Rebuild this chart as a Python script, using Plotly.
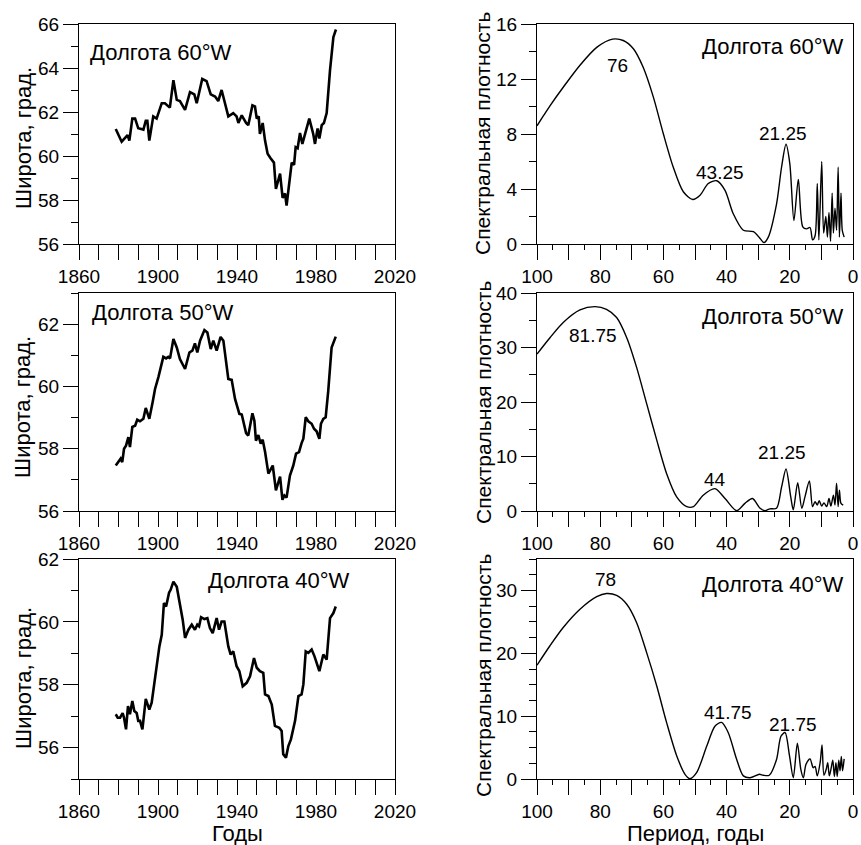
import plotly.graph_objects as go

# ---------------- data: latitude time series ----------------
years_60 = [1878.6, 1881.6, 1884.6, 1885.5, 1887.0, 1888.4, 1890.0, 1892.6, 1893.8, 1894.6, 1895.6, 1897.6,
            1899.3, 1901.9, 1903.5, 1906.0, 1907.8, 1909.5, 1911.1, 1913.7, 1916.2, 1918.4, 1919.6, 1922.4,
            1924.6, 1926.7, 1928.9, 1930.5, 1932.2, 1933.4, 1935.6, 1938.1, 1939.8, 1940.7, 1942.4, 1944.6,
            1945.7, 1947.8, 1949.1, 1950.0, 1951.0, 1951.6, 1953.0, 1954.2, 1955.5, 1957.0, 1958.7, 1959.7,
            1961.8, 1963.1, 1964.3, 1965.1, 1966.8, 1967.7, 1968.9, 1969.7, 1970.7, 1971.9, 1973.1, 1974.4,
            1976.6, 1978.6, 1979.5, 1980.8, 1981.7, 1982.9, 1984.0, 1985.4, 1987.1, 1988.8, 1990.1]
lat_60 = [61.23, 60.65, 60.95, 60.70, 61.70, 61.70, 61.26, 61.20, 61.60, 61.60, 60.70, 61.80,
          61.70, 62.40, 62.40, 62.20, 63.45, 62.55, 62.50, 62.10, 62.90, 62.80, 62.40, 63.50,
          63.40, 62.80, 62.70, 62.50, 63.00, 62.55, 61.80, 61.95, 61.80, 61.50, 61.85, 61.50,
          61.40, 62.30, 62.25, 61.70, 61.80, 61.00, 61.50, 60.70, 60.10, 59.90, 59.70, 58.50,
          59.20, 58.10, 58.30, 57.75, 59.20, 59.70, 59.60, 60.40, 60.35, 61.05, 60.55, 60.95,
          61.70, 61.00, 60.55, 61.25, 60.80, 61.40, 61.50, 61.95, 63.90, 65.40, 65.75]

years_50 = [1878.6, 1879.9, 1881.1, 1881.9, 1882.8, 1883.8, 1885.0, 1885.8, 1887.0, 1888.4, 1889.5, 1890.9,
            1892.6, 1893.8, 1895.6, 1897.3, 1898.5, 1900.2, 1901.5, 1902.7, 1904.1, 1905.2, 1906.1, 1907.8,
            1909.5, 1911.1, 1913.7, 1915.9, 1917.4, 1918.7, 1919.9, 1921.3, 1923.5, 1925.0, 1926.7, 1928.0,
            1929.7, 1931.7, 1933.1, 1935.6, 1937.3, 1939.0, 1941.2, 1942.4, 1944.6, 1945.7, 1947.8, 1948.8,
            1949.6, 1950.8, 1952.0, 1953.0, 1954.2, 1955.9, 1958.1, 1959.7, 1961.8, 1963.0, 1964.0, 1965.1,
            1966.8, 1968.5, 1969.9, 1971.4, 1972.7, 1973.6, 1974.8, 1976.1, 1977.8, 1979.0, 1980.3, 1981.7,
            1982.5, 1983.7, 1984.9, 1986.2, 1987.9, 1990.0]
lat_50 = [57.46, 57.57, 57.68, 57.57, 58.00, 58.10, 58.37, 58.05, 58.70, 58.74, 58.93, 58.88,
          58.96, 59.31, 58.96, 59.50, 59.92, 60.30, 60.60, 60.95, 60.90, 60.95, 60.90, 61.52,
          61.25, 60.88, 60.56, 61.09, 61.15, 61.38, 61.09, 61.47, 61.81, 61.73, 61.20, 61.47,
          61.15, 61.59, 61.47, 60.24, 60.21, 59.60, 59.12, 59.10, 58.50, 58.42, 59.14, 58.90,
          58.26, 58.44, 58.16, 58.29, 57.90, 57.20, 57.46, 56.66, 57.10, 56.36, 56.50, 56.43,
          57.14, 57.46, 57.84, 57.89, 58.18, 58.32, 59.01, 58.88, 58.80, 58.64, 58.56, 58.32,
          58.80, 58.96, 59.01, 59.86, 61.25, 61.60]

years_40 = [1878.6, 1879.6, 1880.8, 1882.1, 1882.8, 1883.8, 1884.8, 1885.8, 1887.0, 1888.0, 1889.2, 1890.0,
            1890.9, 1892.1, 1893.8, 1895.6, 1896.8, 1898.1, 1899.3, 1900.7, 1901.9, 1903.0, 1904.1, 1905.6,
            1906.4, 1907.8, 1909.5, 1910.6, 1912.5, 1913.7, 1915.4, 1917.1, 1918.7, 1919.9, 1920.8, 1921.8,
            1923.5, 1925.0, 1926.3, 1927.7, 1929.7, 1930.9, 1932.2, 1933.6, 1935.6, 1936.8, 1938.1, 1939.8,
            1941.2, 1942.9, 1944.9, 1946.6, 1948.6, 1950.0, 1951.6, 1953.3, 1954.2, 1955.9, 1957.6, 1959.2,
            1961.4, 1962.6, 1963.4, 1964.8, 1966.0, 1967.3, 1969.4, 1971.1, 1972.7, 1973.6, 1974.8, 1976.1,
            1977.8, 1979.2, 1981.7, 1983.7, 1985.4, 1987.1, 1988.8, 1990.0]
lat_40 = [57.06, 56.95, 56.95, 57.10, 56.95, 56.58, 57.32, 57.06, 57.48, 57.16, 57.10, 56.85,
          56.85, 56.58, 57.55, 57.21, 57.43, 58.06, 58.48, 59.22, 59.59, 60.60, 60.49, 60.93,
          61.02, 61.28, 61.12, 60.75, 60.07, 59.49, 59.75, 59.91, 59.75, 59.91, 59.86, 60.15,
          60.09, 60.12, 59.80, 59.64, 60.12, 59.75, 60.01, 60.01, 59.22, 58.96, 59.06, 58.59,
          58.43, 57.95, 58.06, 58.27, 58.85, 58.54, 58.43, 58.38, 57.69, 57.64, 57.37, 56.69,
          56.63, 56.53, 55.79, 55.68, 56.05, 56.26, 56.85, 57.64, 57.69, 58.01, 59.06, 59.01,
          59.12, 58.91, 58.43, 58.96, 58.80, 60.12, 60.28, 60.49]

# ---------------- data: spectral density vs period ----------------
per_60 = [100, 97.9, 95.9, 91.7, 86.4, 81.1, 76.1, 72.7, 69.5, 66.4, 63.2, 60.0, 56.9, 53.7, 50.7, 48.4, 45.8,
          43.1, 40.5, 37.9, 34.7, 31.5, 29.4, 28.2, 26.8, 24.2, 22.6, 21.2, 20.0, 18.7, 17.3, 15.9, 14.7,
          13.6, 12.8, 12.0, 11.3, 10.8, 9.9, 9.3, 8.6, 8.1, 7.6, 7.1, 6.6, 6.2, 5.7, 5.2, 4.7, 4.3, 3.8,
          3.4, 2.8]
spec_60 = [8.6, 9.35, 10.05, 11.4, 13.0, 14.3, 14.9, 14.8, 14.2, 12.85, 10.7, 8.0, 5.6, 3.8, 3.24, 3.55, 4.4,
           4.6, 3.9, 2.2, 1.0, 0.9, 0.4, 0.1, 0.5, 2.9, 5.6, 7.25, 5.85, 1.7, 4.7, 1.25, 1.1,
           1.2, 0.3, 0.6, 4.4, 0.3, 6.0, 0.8, 2.0, 0.5, 2.3, 0.2, 3.7, 0.8, 2.6, 1.0, 5.6, 0.5, 3.7,
           1.0, 0.5]

per_50 = [100, 95.9, 91.7, 86.4, 81.6, 78.0, 74.8, 71.6, 68.5, 65.3, 62.1, 59.0, 55.8, 52.6, 50.5, 47.4,
          43.7, 40.5, 36.8, 34.2, 31.8, 29.4, 27.8, 26.3, 24.2, 22.6, 21.2, 19.7, 18.9, 17.5, 16.2, 15.2,
          13.8, 12.8, 12.0, 11.3, 10.7, 9.9, 9.2, 8.3, 7.6, 7.0, 6.2, 5.7, 5.2, 4.7, 4.3, 3.8, 3.1]
spec_50 = [28.8, 31.8, 34.6, 36.9, 37.5, 37.0, 35.5, 31.8, 26.4, 19.7, 13.0, 6.9, 2.6, 0.8, 0.8, 2.9,
           4.1, 2.3, 0.05, 1.4, 2.3, 0.5, 0.05, 0.4, 0.5, 4.4, 7.7, 2.6, 0.2, 5.2, 0.5, 2.6,
           5.5, 0.8, 1.7, 1.1, 1.9, 0.9, 1.5, 0.8, 2.3, 0.9, 2.9, 1.1, 5.1, 0.8, 3.8, 1.4, 1.1]

per_40 = [100, 95.9, 91.7, 86.4, 81.1, 78.0, 74.8, 71.6, 68.5, 65.3, 62.1, 59.0, 55.8, 53.1, 51.6, 49.5,
          46.3, 43.7, 41.6, 39.5, 36.8, 34.7, 32.6, 29.6, 28.4, 26.5, 24.2, 22.8, 21.5, 20.1, 18.9, 17.6,
          16.5, 15.7, 14.9, 13.6, 12.6, 12.0, 11.3, 10.4, 9.8, 9.2, 8.5, 8.0, 7.5, 7.0, 6.4, 5.9, 5.4,
          5.0, 4.5, 4.1, 3.7, 3.3, 2.8]
spec_40 = [18.1, 21.2, 24.1, 27.0, 29.0, 29.5, 29.2, 27.8, 24.9, 20.1, 14.8, 9.0, 3.7, 0.7, 0.05, 1.0,
           5.2, 8.4, 9.0, 7.4, 3.1, 0.5, 0.2, 0.75, 0.6, 0.6, 3.1, 6.8, 7.4, 3.7, 0.2, 5.7,
           1.5, 0.2, 2.3, 3.2, 1.8, 2.0, 0.5, 2.6, 5.4, 0.6, 1.5, 2.6, 0.5, 1.5, 3.0, 0.4, 2.6,
           0.4, 3.0, 1.3, 3.6, 1.3, 3.2]

panel_titles = ["Долгота 60°W", "Долгота 50°W", "Долгота 40°W"]
peak_60 = [("76", 74.4, 13.0), ("43.25", 42.2, 5.2), ("21.25", 22.3, 8.0)]
peak_50 = [("81.75", 82.2, 32.2), ("44", 43.7, 5.8), ("21.25", 22.5, 10.8)]
peak_40 = [("78", 78.4, 31.8), ("41.75", 39.6, 10.6), ("21.75", 18.9, 8.6)]

# ---------------- layout geometry ----------------
W, H = 861, 845
FONT = "Liberation Sans, Arial, sans-serif"
left_x = (79, 395)
right_x = (537, 853)
rows_y = [(24, 244), (293, 511), (559, 779)]
left_title_cy = [138, 407, 678]
right_title_cy = [134, 403, 676]


def xdom(px):
    return [px[0] / W, px[1] / W]


def ydom(py):
    return [1 - py[1] / H, 1 - py[0] / H]


fig = go.Figure()

series = [(years_60, lat_60), (years_50, lat_50), (years_40, lat_40)]
spectra = [(per_60, spec_60), (per_50, spec_50), (per_40, spec_40)]
peaks = [peak_60, peak_50, peak_40]

lat_ranges = [[56, 66], [56, 63], [55, 62]]
lat_ticks = [[56, 58, 60, 62, 64, 66], [56, 58, 60, 62], [56, 58, 60, 62]]
spec_ranges = [[0, 16], [0, 40], [0, 35]]
spec_dticks = [4, 10, 10]
spec_minor = [2, 5, 2.5]

axis_common = dict(showline=True, linecolor="black", linewidth=1.3, mirror=True,
                   ticks="outside", ticklen=15, tickwidth=1.3, tickcolor="black",
                   showgrid=False, zeroline=False, automargin=False,
                   tickfont=dict(family=FONT, size=19, color="black"))

for i in range(3):
    la = 2 * i + 1
    ra = 2 * i + 2
    lx = "x" if la == 1 else f"x{la}"
    ly = "y" if la == 1 else f"y{la}"
    rx = f"x{ra}"
    ry = f"y{ra}"

    fig.add_trace(go.Scatter(x=series[i][0], y=series[i][1], mode="lines",
                             line=dict(color="black", width=2.6), xaxis=lx, yaxis=ly,
                             showlegend=False))
    fig.add_trace(go.Scatter(x=spectra[i][0], y=spectra[i][1], mode="lines",
                             line=dict(color="black", width=1.4, shape="spline", smoothing=0.8),
                             xaxis=rx, yaxis=ry, showlegend=False, cliponaxis=True))

    lkey_x = "xaxis" if la == 1 else f"xaxis{la}"
    lkey_y = "yaxis" if la == 1 else f"yaxis{la}"
    fig.update_layout({
        lkey_x: dict(axis_common, domain=xdom(left_x), range=[1860, 2020], anchor=ly,
                     tickmode="array", tickvals=[1860, 1900, 1940, 1980, 2020],
                     minor=dict(tickmode="array",
                                tickvals=[1870, 1880, 1890, 1910, 1920, 1930, 1950, 1960, 1970,
                                          1990, 2000, 2010],
                                ticks="outside", ticklen=15, tickwidth=1.3, tickcolor="black")),
        lkey_y: dict(axis_common, domain=ydom(rows_y[i]), range=lat_ranges[i], anchor=lx,
                     tickmode="array", tickvals=lat_ticks[i],
                     minor=dict(dtick=1, ticks="outside", ticklen=7, tickwidth=1.3,
                                tickcolor="black")),
        f"xaxis{ra}": dict(axis_common, domain=xdom(right_x), range=[100, 0], anchor=ry,
                           tickmode="array",
                           tickvals=[100, 90, 80, 70, 60, 50, 40, 30, 20, 10, 0],
                           ticktext=["100", "", "80", "", "60", "", "40", "", "20", "", "0"],
                           minor=dict(dtick=5, ticks="outside", ticklen=5, tickwidth=1.3,
                                      tickcolor="black")),
        f"yaxis{ra}": dict(axis_common, domain=ydom(rows_y[i]), range=spec_ranges[i], anchor=rx,
                           dtick=spec_dticks[i], tick0=0,
                           minor=dict(dtick=spec_minor[i], ticks="outside", ticklen=7,
                                      tickwidth=1.3, tickcolor="black")),
    })

    for txt, px, py in peaks[i]:
        fig.add_annotation(x=px, y=py, xref=rx, yref=ry, text=txt, showarrow=False,
                           xanchor="center", yanchor="middle",
                           font=dict(family=FONT, size=19, color="black"))

# panel titles
left_title_pos = [(88, 52, "left"), (90, 312, "left"), (351, 580, "right")]
for i, (px, py, anc) in enumerate(left_title_pos):
    fig.add_annotation(x=px / W, y=1 - py / H, xref="paper", yref="paper", text=panel_titles[i],
                       showarrow=False, xanchor=anc, yanchor="middle",
                       font=dict(family=FONT, size=22, color="black"))
right_title_y = [46, 316, 584]
for i, py in enumerate(right_title_y):
    fig.add_annotation(x=845 / W, y=1 - py / H, xref="paper", yref="paper", text=panel_titles[i],
                       showarrow=False, xanchor="right", yanchor="middle",
                       font=dict(family=FONT, size=22, color="black"))

# axis titles
for cy in left_title_cy:
    fig.add_annotation(x=23 / W, y=1 - cy / H, xref="paper", yref="paper",
                       text="Широта, град.", textangle=-90, showarrow=False,
                       xanchor="center", yanchor="middle",
                       font=dict(family=FONT, size=22, color="black"))
for cy in right_title_cy:
    fig.add_annotation(x=483 / W, y=1 - cy / H, xref="paper", yref="paper",
                       text="Спектральная плотность", textangle=-90, showarrow=False,
                       xanchor="center", yanchor="middle",
                       font=dict(family=FONT, size=21, color="black"))

fig.add_annotation(x=237 / W, y=1 - 833 / H, xref="paper", yref="paper", text="Годы",
                   showarrow=False, xanchor="center", yanchor="middle",
                   font=dict(family=FONT, size=22, color="black"))
fig.add_annotation(x=695 / W, y=1 - 833 / H, xref="paper", yref="paper", text="Период, годы",
                   showarrow=False, xanchor="center", yanchor="middle",
                   font=dict(family=FONT, size=22, color="black"))

fig.update_layout(width=W, height=H, margin=dict(l=0, r=0, t=0, b=0),
                  paper_bgcolor="white", plot_bgcolor="white",
                  font=dict(family=FONT, color="black"))

fig.write_html("out.html")
